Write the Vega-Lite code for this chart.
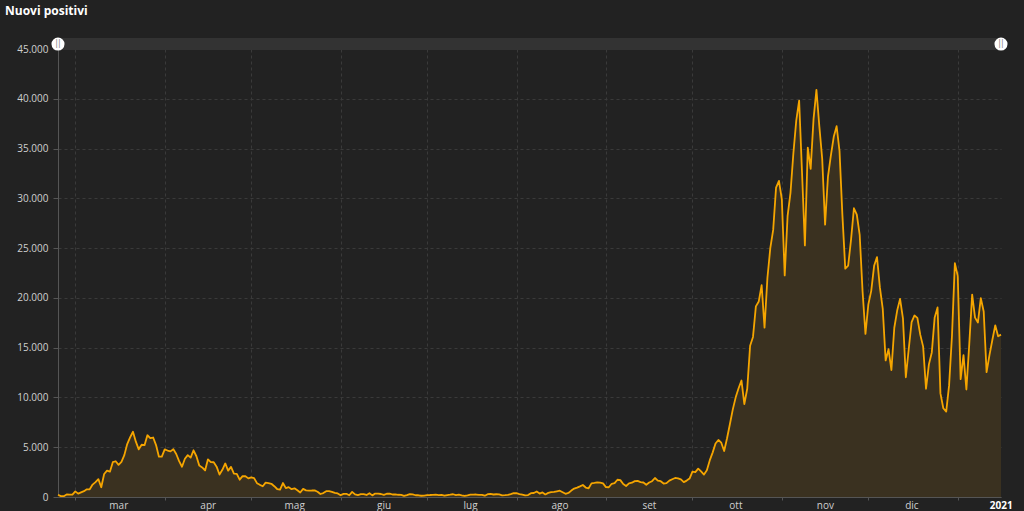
{
  "$schema": "https://vega.github.io/schema/vega-lite/v6.json",
  "width": 943,
  "height": 448,
  "autosize": {"type": "none"},
  "padding": {"left": 58, "top": 49, "right": 23, "bottom": 14},
  "background": "#222222",
  "title": {"text": "Nuovi positivi", "anchor": "start", "frame": "group", "dx": -53, "offset": 20, "font": "Open Sans", "fontSize": 12, "fontWeight": "bold", "color": "#ffffff"},
  "config": {
    "view": {"stroke": null},
    "axis": {"gridColor": "#3a3a3a", "gridDash": [3, 3], "gridWidth": 1, "domainColor": "#555555", "tickColor": "#555555", "labelColor": "#d0d0d0", "labelFont": "Open Sans", "labelFontSize": 10, "title": null}
  },
  "datasets": {
    "pos": [
      {"d":"2020-02-24","v":221},{"d":"2020-02-25","v":93},{"d":"2020-02-26","v":78},{"d":"2020-02-27","v":250},{"d":"2020-02-28","v":238},{"d":"2020-02-29","v":240},
      {"d":"2020-03-01","v":566},{"d":"2020-03-02","v":342},{"d":"2020-03-03","v":466},{"d":"2020-03-04","v":587},{"d":"2020-03-05","v":769},{"d":"2020-03-06","v":778},{"d":"2020-03-07","v":1247},{"d":"2020-03-08","v":1492},{"d":"2020-03-09","v":1797},{"d":"2020-03-10","v":977},{"d":"2020-03-11","v":2313},{"d":"2020-03-12","v":2651},{"d":"2020-03-13","v":2547},{"d":"2020-03-14","v":3497},{"d":"2020-03-15","v":3590},{"d":"2020-03-16","v":3233},{"d":"2020-03-17","v":3526},{"d":"2020-03-18","v":4207},{"d":"2020-03-19","v":5322},{"d":"2020-03-20","v":5986},{"d":"2020-03-21","v":6557},{"d":"2020-03-22","v":5560},{"d":"2020-03-23","v":4789},{"d":"2020-03-24","v":5249},{"d":"2020-03-25","v":5210},{"d":"2020-03-26","v":6203},{"d":"2020-03-27","v":5909},{"d":"2020-03-28","v":5974},{"d":"2020-03-29","v":5217},{"d":"2020-03-30","v":4050},{"d":"2020-03-31","v":4053},
      {"d":"2020-04-01","v":4782},{"d":"2020-04-02","v":4668},{"d":"2020-04-03","v":4585},{"d":"2020-04-04","v":4805},{"d":"2020-04-05","v":4316},{"d":"2020-04-06","v":3599},{"d":"2020-04-07","v":3039},{"d":"2020-04-08","v":3836},{"d":"2020-04-09","v":4204},{"d":"2020-04-10","v":3951},{"d":"2020-04-11","v":4694},{"d":"2020-04-12","v":4092},{"d":"2020-04-13","v":3153},{"d":"2020-04-14","v":2972},{"d":"2020-04-15","v":2667},{"d":"2020-04-16","v":3786},{"d":"2020-04-17","v":3493},{"d":"2020-04-18","v":3491},{"d":"2020-04-19","v":3047},{"d":"2020-04-20","v":2256},{"d":"2020-04-21","v":2729},{"d":"2020-04-22","v":3370},{"d":"2020-04-23","v":2646},{"d":"2020-04-24","v":3021},{"d":"2020-04-25","v":2357},{"d":"2020-04-26","v":2324},{"d":"2020-04-27","v":1739},{"d":"2020-04-28","v":2091},{"d":"2020-04-29","v":2086},{"d":"2020-04-30","v":1872},
      {"d":"2020-05-01","v":1965},{"d":"2020-05-02","v":1900},{"d":"2020-05-03","v":1389},{"d":"2020-05-04","v":1221},{"d":"2020-05-05","v":1075},{"d":"2020-05-06","v":1444},{"d":"2020-05-07","v":1401},{"d":"2020-05-08","v":1327},{"d":"2020-05-09","v":1083},{"d":"2020-05-10","v":802},{"d":"2020-05-11","v":744},{"d":"2020-05-12","v":1402},{"d":"2020-05-13","v":888},{"d":"2020-05-14","v":992},{"d":"2020-05-15","v":789},{"d":"2020-05-16","v":875},{"d":"2020-05-17","v":675},{"d":"2020-05-18","v":451},{"d":"2020-05-19","v":813},{"d":"2020-05-20","v":665},{"d":"2020-05-21","v":642},{"d":"2020-05-22","v":652},{"d":"2020-05-23","v":669},{"d":"2020-05-24","v":531},{"d":"2020-05-25","v":300},{"d":"2020-05-26","v":397},{"d":"2020-05-27","v":584},{"d":"2020-05-28","v":593},{"d":"2020-05-29","v":516},{"d":"2020-05-30","v":416},{"d":"2020-05-31","v":355},
      {"d":"2020-06-01","v":178},{"d":"2020-06-02","v":318},{"d":"2020-06-03","v":321},{"d":"2020-06-04","v":177},{"d":"2020-06-05","v":518},{"d":"2020-06-06","v":270},{"d":"2020-06-07","v":197},{"d":"2020-06-08","v":280},{"d":"2020-06-09","v":283},{"d":"2020-06-10","v":202},{"d":"2020-06-11","v":379},{"d":"2020-06-12","v":163},{"d":"2020-06-13","v":346},{"d":"2020-06-14","v":338},{"d":"2020-06-15","v":301},{"d":"2020-06-16","v":210},{"d":"2020-06-17","v":328},{"d":"2020-06-18","v":333},{"d":"2020-06-19","v":251},{"d":"2020-06-20","v":262},{"d":"2020-06-21","v":224},{"d":"2020-06-22","v":218},{"d":"2020-06-23","v":122},{"d":"2020-06-24","v":190},{"d":"2020-06-25","v":296},{"d":"2020-06-26","v":259},{"d":"2020-06-27","v":175},{"d":"2020-06-28","v":174},{"d":"2020-06-29","v":126},{"d":"2020-06-30","v":142},
      {"d":"2020-07-01","v":187},{"d":"2020-07-02","v":201},{"d":"2020-07-03","v":223},{"d":"2020-07-04","v":235},{"d":"2020-07-05","v":192},{"d":"2020-07-06","v":208},{"d":"2020-07-07","v":138},{"d":"2020-07-08","v":193},{"d":"2020-07-09","v":229},{"d":"2020-07-10","v":276},{"d":"2020-07-11","v":188},{"d":"2020-07-12","v":234},{"d":"2020-07-13","v":169},{"d":"2020-07-14","v":114},{"d":"2020-07-15","v":163},{"d":"2020-07-16","v":230},{"d":"2020-07-17","v":233},{"d":"2020-07-18","v":249},{"d":"2020-07-19","v":219},{"d":"2020-07-20","v":218},{"d":"2020-07-21","v":129},{"d":"2020-07-22","v":282},{"d":"2020-07-23","v":306},{"d":"2020-07-24","v":252},{"d":"2020-07-25","v":275},{"d":"2020-07-26","v":255},{"d":"2020-07-27","v":170},{"d":"2020-07-28","v":181},{"d":"2020-07-29","v":212},{"d":"2020-07-30","v":289},{"d":"2020-07-31","v":386},
      {"d":"2020-08-01","v":379},{"d":"2020-08-02","v":295},{"d":"2020-08-03","v":239},{"d":"2020-08-04","v":159},{"d":"2020-08-05","v":190},{"d":"2020-08-06","v":384},{"d":"2020-08-07","v":402},{"d":"2020-08-08","v":552},{"d":"2020-08-09","v":347},{"d":"2020-08-10","v":463},{"d":"2020-08-11","v":259},{"d":"2020-08-12","v":412},{"d":"2020-08-13","v":481},{"d":"2020-08-14","v":523},{"d":"2020-08-15","v":574},{"d":"2020-08-16","v":629},{"d":"2020-08-17","v":479},{"d":"2020-08-18","v":320},{"d":"2020-08-19","v":403},{"d":"2020-08-20","v":642},{"d":"2020-08-21","v":845},{"d":"2020-08-22","v":947},{"d":"2020-08-23","v":1071},{"d":"2020-08-24","v":1210},{"d":"2020-08-25","v":953},{"d":"2020-08-26","v":878},{"d":"2020-08-27","v":1367},{"d":"2020-08-28","v":1409},{"d":"2020-08-29","v":1462},{"d":"2020-08-30","v":1444},{"d":"2020-08-31","v":1365},
      {"d":"2020-09-01","v":996},{"d":"2020-09-02","v":978},{"d":"2020-09-03","v":1326},{"d":"2020-09-04","v":1397},{"d":"2020-09-05","v":1733},{"d":"2020-09-06","v":1695},{"d":"2020-09-07","v":1297},{"d":"2020-09-08","v":1108},{"d":"2020-09-09","v":1370},{"d":"2020-09-10","v":1434},{"d":"2020-09-11","v":1597},{"d":"2020-09-12","v":1616},{"d":"2020-09-13","v":1501},{"d":"2020-09-14","v":1458},{"d":"2020-09-15","v":1229},{"d":"2020-09-16","v":1452},{"d":"2020-09-17","v":1585},{"d":"2020-09-18","v":1907},{"d":"2020-09-19","v":1638},{"d":"2020-09-20","v":1587},{"d":"2020-09-21","v":1350},{"d":"2020-09-22","v":1392},{"d":"2020-09-23","v":1640},{"d":"2020-09-24","v":1786},{"d":"2020-09-25","v":1912},{"d":"2020-09-26","v":1869},{"d":"2020-09-27","v":1766},{"d":"2020-09-28","v":1494},{"d":"2020-09-29","v":1648},{"d":"2020-09-30","v":1851},
      {"d":"2020-10-01","v":2548},{"d":"2020-10-02","v":2499},{"d":"2020-10-03","v":2844},{"d":"2020-10-04","v":2578},{"d":"2020-10-05","v":2257},{"d":"2020-10-06","v":2677},{"d":"2020-10-07","v":3678},{"d":"2020-10-08","v":4458},{"d":"2020-10-09","v":5372},{"d":"2020-10-10","v":5724},{"d":"2020-10-11","v":5456},{"d":"2020-10-12","v":4619},{"d":"2020-10-13","v":5901},{"d":"2020-10-14","v":7332},{"d":"2020-10-15","v":8804},{"d":"2020-10-16","v":10010},{"d":"2020-10-17","v":10925},{"d":"2020-10-18","v":11705},{"d":"2020-10-19","v":9338},{"d":"2020-10-20","v":10874},{"d":"2020-10-21","v":15199},{"d":"2020-10-22","v":16079},{"d":"2020-10-23","v":19143},{"d":"2020-10-24","v":19644},{"d":"2020-10-25","v":21273},{"d":"2020-10-26","v":17012},{"d":"2020-10-27","v":21994},{"d":"2020-10-28","v":24991},{"d":"2020-10-29","v":26831},{"d":"2020-10-30","v":31084},{"d":"2020-10-31","v":31758},
      {"d":"2020-11-01","v":29907},{"d":"2020-11-02","v":22253},{"d":"2020-11-03","v":28244},{"d":"2020-11-04","v":30550},{"d":"2020-11-05","v":34505},{"d":"2020-11-06","v":37809},{"d":"2020-11-07","v":39811},{"d":"2020-11-08","v":32616},{"d":"2020-11-09","v":25271},{"d":"2020-11-10","v":35098},{"d":"2020-11-11","v":32961},{"d":"2020-11-12","v":37978},{"d":"2020-11-13","v":40902},{"d":"2020-11-14","v":37255},{"d":"2020-11-15","v":33979},{"d":"2020-11-16","v":27354},{"d":"2020-11-17","v":32191},{"d":"2020-11-18","v":34283},{"d":"2020-11-19","v":36176},{"d":"2020-11-20","v":37242},{"d":"2020-11-21","v":34767},{"d":"2020-11-22","v":28337},{"d":"2020-11-23","v":22930},{"d":"2020-11-24","v":23232},{"d":"2020-11-25","v":25853},{"d":"2020-11-26","v":29003},{"d":"2020-11-27","v":28352},{"d":"2020-11-28","v":26323},{"d":"2020-11-29","v":20648},{"d":"2020-11-30","v":16377},
      {"d":"2020-12-01","v":19350},{"d":"2020-12-02","v":20709},{"d":"2020-12-03","v":23225},{"d":"2020-12-04","v":24099},{"d":"2020-12-05","v":21052},{"d":"2020-12-06","v":18887},{"d":"2020-12-07","v":13720},{"d":"2020-12-08","v":14842},{"d":"2020-12-09","v":12756},{"d":"2020-12-10","v":16999},{"d":"2020-12-11","v":18727},{"d":"2020-12-12","v":19903},{"d":"2020-12-13","v":17938},{"d":"2020-12-14","v":12030},{"d":"2020-12-15","v":14844},{"d":"2020-12-16","v":17572},{"d":"2020-12-17","v":18236},{"d":"2020-12-18","v":17992},{"d":"2020-12-19","v":16308},{"d":"2020-12-20","v":15104},{"d":"2020-12-21","v":10872},{"d":"2020-12-22","v":13318},{"d":"2020-12-23","v":14522},{"d":"2020-12-24","v":18040},{"d":"2020-12-25","v":19037},{"d":"2020-12-26","v":10407},{"d":"2020-12-27","v":8913},{"d":"2020-12-28","v":8585},{"d":"2020-12-29","v":11212},{"d":"2020-12-30","v":16202},{"d":"2020-12-31","v":23477},
      {"d":"2021-01-01","v":22211},{"d":"2021-01-02","v":11831},{"d":"2021-01-03","v":14245},{"d":"2021-01-04","v":10800},{"d":"2021-01-05","v":15378},{"d":"2021-01-06","v":20331},{"d":"2021-01-07","v":18020},{"d":"2021-01-08","v":17533},{"d":"2021-01-09","v":19978},{"d":"2021-01-10","v":18627},{"d":"2021-01-11","v":12545},{"d":"2021-01-12","v":14242},{"d":"2021-01-13","v":15774},{"d":"2021-01-14","v":17246},{"d":"2021-01-15","v":16146},{"d":"2021-01-16","v":16310}
    ],
    "bar": [{"s": "2020-02-24", "e": "2021-01-16", "y1": 44900, "y2": 46100}],
    "handles": [{"d": "2020-02-24", "y": 45500, "t": "||"}, {"d": "2021-01-16", "y": 45500, "t": "||"}]
  },
  "layer": [
    {
      "data": {"name": "pos"},
      "mark": {"type": "area", "color": "#3a3120", "line": false},
      "encoding": {
        "x": {"field": "d", "type": "temporal",
          "scale": {"type": "utc", "domain": [{"year": 2020, "month": 2, "date": 24, "utc": true}, {"year": 2021, "month": 1, "date": 16, "utc": true}], "nice": false},
          "axis": {"title": null, "tickCount": {"interval": "month", "step": 1}, "grid": true, "tickSize": 3, "labelOffset": 43, "labelPadding": 0, "labelFlush": false, "labelOverlap": false, "labelBound": false,
            "labelExpr": "utcmonth(datum.value) == 0 ? utcFormat(datum.value, '%Y') : ['gen','feb','mar','apr','mag','giu','lug','ago','set','ott','nov','dic'][utcmonth(datum.value)]",
            "labelFontWeight": {"condition": {"test": "utcmonth(datum.value) == 0", "value": "bold"}, "value": "normal"},
            "labelColor": {"condition": {"test": "utcmonth(datum.value) == 0", "value": "#ffffff"}, "value": "#d0d0d0"}}},
        "y": {"field": "v", "type": "quantitative",
          "scale": {"domain": [0, 45000], "nice": false},
          "axis": {"title": null, "values": [0, 5000, 10000, 15000, 20000, 25000, 30000, 35000, 40000, 45000], "grid": true, "tickSize": 5, "labelPadding": 5,
            "labelExpr": "replace(format(datum.value, ','), ',', '.')"}}
      }
    },
    {
      "data": {"name": "pos"},
      "mark": {"type": "line", "color": "#f5a500", "strokeWidth": 1.8, "strokeJoin": "round"},
      "encoding": {
        "x": {"field": "d", "type": "temporal"},
        "y": {"field": "v", "type": "quantitative"}
      }
    },
    {
      "data": {"name": "bar"},
      "mark": {"type": "rect", "color": "#333333"},
      "encoding": {
        "x": {"field": "s", "type": "temporal"},
        "x2": {"field": "e"},
        "y": {"field": "y1", "type": "quantitative"},
        "y2": {"field": "y2"}
      }
    },
    {
      "data": {"name": "handles"},
      "mark": {"type": "point", "filled": true, "color": "#ffffff", "opacity": 1, "size": 170},
      "encoding": {
        "x": {"field": "d", "type": "temporal"},
        "y": {"field": "y", "type": "quantitative"}
      }
    },
    {
      "data": {"name": "handles"},
      "mark": {"type": "text", "color": "#888888", "fontSize": 8, "font": "DejaVu Sans", "baseline": "middle", "align": "center"},
      "encoding": {
        "x": {"field": "d", "type": "temporal"},
        "y": {"field": "y", "type": "quantitative"},
        "text": {"field": "t"}
      }
    }
  ]
}
